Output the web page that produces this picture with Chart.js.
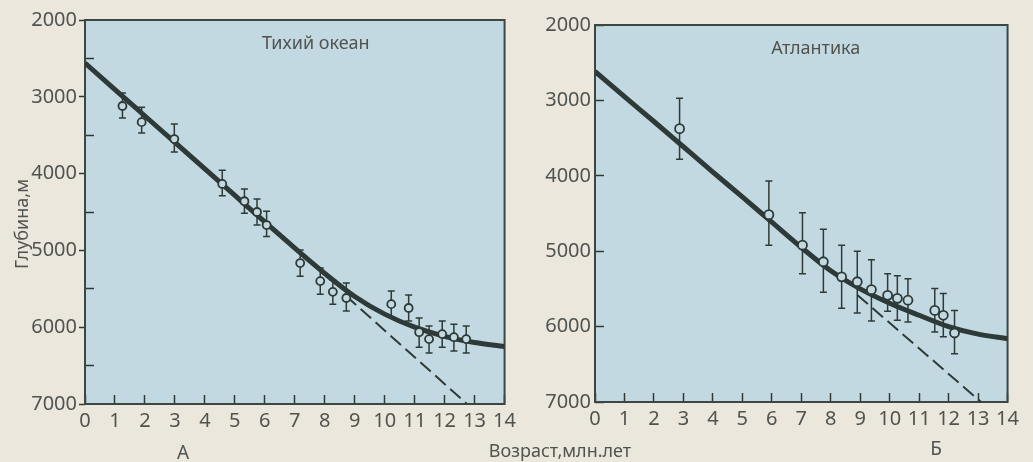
<!DOCTYPE html>
<html>
<head>
<meta charset="utf-8">
<script src="https://cdn.jsdelivr.net/npm/chart.js@4.4.1/dist/chart.umd.min.js"></script>
<style>
  body { margin: 0; width: 1033px; height: 462px; overflow: hidden; position: relative;
         background: #ebe7dd; font-family: "Noto Sans", sans-serif; color: #51534f; }
  .panel { position: absolute; top: 0; height: 462px; }
  #boxA { left: 0; width: 530px; }
  #boxB { left: 530px; width: 503px; }
  .lbl { position: absolute; white-space: nowrap; transform: translate(-50%, -50%); }
  #ylab { left: 21px; top: 224px; font-size: 18px; transform: translate(-50%, -50%) rotate(-90deg); }
  #xlab { left: 560px; top: 450px; font-size: 18px; }
  #la { left: 183px; top: 452px; font-size: 19px; }
  #lb { left: 936px; top: 448px; font-size: 19px; }
</style>
</head>
<body>
<div class="panel" id="boxA"><canvas id="chartA"></canvas></div>
<div class="panel" id="boxB"><canvas id="chartB"></canvas></div>
<div class="lbl" id="ylab">Глубина,м</div>
<div class="lbl" id="xlab">Возраст,млн.лет</div>
<div class="lbl" id="la">А</div>
<div class="lbl" id="lb">Б</div>

<script>
// axis ticks
const ageTicks = [0, 1, 2, 3, 4, 5, 6, 7, 8, 9, 10, 11, 12, 13, 14];
const depthTicks = [2000, 3000, 4000, 5000, 6000, 7000];
const depthMinorTicks = [2500, 3500, 4500, 5500, 6500];

// Тихий океан - measured points with error bars
const pacAge    = [1.25, 1.89, 2.98, 4.58, 5.32, 5.74, 6.06, 7.18, 7.85, 8.27, 8.72, 10.22, 10.8, 11.15, 11.48, 11.92, 12.31, 12.72];
const pacDepth  = [3120, 3330, 3550, 4135, 4360, 4500, 4670, 5165, 5400, 5540, 5620, 5700, 5750, 6065, 6155, 6090, 6130, 6155];
const pacErrTop = [2950, 3135, 3355, 3955, 4200, 4330, 4490, 4995, 5230, 5385, 5425, 5530, 5580, 5880, 5985, 5920, 5960, 5985];
const pacErrBot = [3275, 3470, 3720, 4290, 4515, 4670, 4820, 5335, 5570, 5700, 5790, 5870, 5920, 6260, 6335, 6260, 6310, 6335];
// model curve (read at whole ages) and straight extrapolation
const pacCurve  = [2560, 2905, 3250, 3595, 3940, 4285, 4630, 4970, 5300, 5600, 5830, 6000, 6120, 6200, 6250];
const pacDashAge   = [8.7, 12.75];
const pacDashDepth = [5590, 7000];

// Атлантика
const atlAge    = [2.87, 5.9, 7.04, 7.75, 8.37, 8.9, 9.38, 9.93, 10.26, 10.62, 11.53, 11.82, 12.2];
const atlDepth  = [3375, 4515, 4920, 5140, 5340, 5405, 5510, 5585, 5625, 5650, 5785, 5850, 6085];
const atlErrTop = [2970, 4070, 4490, 4710, 4920, 5000, 5115, 5300, 5325, 5365, 5495, 5560, 5785];
const atlErrBot = [3780, 4920, 5300, 5545, 5755, 5820, 5925, 5795, 5915, 5940, 6070, 6135, 6360];
const atlCurve  = [2615, 2950, 3280, 3615, 3950, 4280, 4615, 4950, 5260, 5500, 5690, 5850, 6000, 6100, 6160];
const atlDashAge   = [8.9, 13.1];
const atlDashDepth = [5580, 7000];

const INK = "#2e3a37";
const FRAME = "#3d4643";
const PLOT_BG = "#c3d9e2";
const TEXT = "#51534f";
const tickFont = { family: "Noto Sans", size: 20 };

// light blue plot area + frame around it
const framePlugin = {
  id: "frame",
  beforeDraw(chart) {
    const { ctx, chartArea: a } = chart;
    ctx.save();
    ctx.fillStyle = PLOT_BG;
    ctx.fillRect(a.left, a.top, a.width, a.height);
    ctx.restore();
  },
  beforeDatasetsDraw(chart) {
    const { ctx, chartArea: a } = chart;
    ctx.save();
    ctx.strokeStyle = FRAME;
    ctx.lineWidth = 2;
    ctx.strokeRect(a.left, a.top, a.width, a.height);
    ctx.restore();
  },
};

// vertical error bars with small caps, drawn under the circles
const errorBarPlugin = {
  id: "errorBars",
  beforeDatasetsDraw(chart) {
    const { ctx, scales: { x, y } } = chart;
    chart.data.datasets.forEach((ds) => {
      if (!ds.errTop) return;
      ctx.save();
      ctx.strokeStyle = INK;
      ctx.lineWidth = 1.5;
      ds.data.forEach((p, i) => {
        const px = x.getPixelForValue(p.x);
        const y1 = y.getPixelForValue(ds.errTop[i]);
        const y2 = y.getPixelForValue(ds.errBot[i]);
        ctx.beginPath();
        ctx.moveTo(px, y1); ctx.lineTo(px, y2);
        ctx.moveTo(px - 3.5, y1); ctx.lineTo(px + 3.5, y1);
        ctx.moveTo(px - 3.5, y2); ctx.lineTo(px + 3.5, y2);
        ctx.stroke();
      });
      ctx.restore();
    });
  },
};

// panel caption inside the plot
const captionPlugin = {
  id: "caption",
  afterDraw(chart) {
    const c = chart.options.plugins.caption;
    if (!c) return;
    const { ctx, chartArea: a } = chart;
    ctx.save();
    ctx.font = "18px 'Noto Sans'";
    ctx.fillStyle = TEXT;
    ctx.textAlign = "center";
    ctx.textBaseline = "middle";
    ctx.fillText(c.text, a.left + a.width * c.at, a.top + 24);
    ctx.restore();
  },
};

const toPoints = (xs, ys) => xs.map((v, i) => ({ x: v, y: ys[i] }));
const plain = (v) => String(v); // no thousands separator

function makePanel(id, p) {
  const scales = {
    x: {
      type: "linear", min: 0, max: 14, position: "bottom",
      afterBuildTicks: (s) => { s.ticks = ageTicks.map((v) => ({ value: v })); },
      ticks: { color: TEXT, font: tickFont, padding: 14, maxRotation: 0, autoSkip: false, callback: plain },
      grid: { drawOnChartArea: false, tickLength: -9, tickColor: INK, tickWidth: 1.5 },
      border: { display: false },
      afterFit: (s) => { s.height = p.xHeight; },
    },
    y: {
      type: "linear", reverse: true, min: 2000, max: 7000, position: "left", weight: 1,
      afterBuildTicks: (s) => { s.ticks = depthTicks.map((v) => ({ value: v })); },
      ticks: { color: TEXT, font: tickFont, padding: p.yPad, callback: plain },
      grid: { drawOnChartArea: false, tickLength: p.yTick, tickColor: INK, tickWidth: 1.5 },
      border: { display: false },
      afterFit: (s) => { s.width = p.yWidth; },
    },
  };
  if (p.minor) {
    scales.yMinor = {
      type: "linear", reverse: true, min: 2000, max: 7000, position: "left", weight: 0,
      afterBuildTicks: (s) => { s.ticks = depthMinorTicks.map((v) => ({ value: v })); },
      ticks: { display: false },
      grid: { drawOnChartArea: false, tickLength: -9, tickColor: INK, tickWidth: 1.5 },
      border: { display: false },
      afterFit: (s) => { s.width = 0; },
    };
  }

  return new Chart(document.getElementById(id), {
    type: "scatter",
    data: {
      datasets: [
        {
          data: toPoints(p.age, p.depth),
          errTop: p.errTop, errBot: p.errBot,
          pointRadius: p.r, pointBorderWidth: 1.8,
          pointBackgroundColor: PLOT_BG, pointBorderColor: INK,
          order: 0,
        },
        {
          type: "line",
          data: toPoints(ageTicks, p.curve),
          borderColor: INK, borderWidth: 5, pointRadius: 0,
          cubicInterpolationMode: "monotone", fill: false,
          order: 1,
        },
        {
          type: "line",
          data: toPoints(p.dashAge, p.dashDepth),
          borderColor: INK, borderWidth: 2, borderDash: [14, 6], pointRadius: 0,
          fill: false,
          order: 2,
        },
      ],
    },
    options: {
      responsive: true,
      maintainAspectRatio: false,
      animation: false,
      layout: { padding: { top: 20, right: 8, left: 0, bottom: 0 } },
      scales,
      plugins: {
        legend: { display: false },
        tooltip: { enabled: false },
        caption: { text: p.title, at: p.titleAt },
      },
    },
    plugins: [framePlugin, errorBarPlugin, captionPlugin],
  });
}

makePanel("chartA", {
  title: "Тихий океан", titleAt: 0.55,
  age: pacAge, depth: pacDepth, errTop: pacErrTop, errBot: pacErrBot,
  curve: pacCurve, dashAge: pacDashAge, dashDepth: pacDashDepth,
  r: 4, xHeight: 58, yWidth: 85, yTick: 6, yPad: 2, minor: true,
});

makePanel("chartB", {
  title: "Атлантика", titleAt: 0.535,
  age: atlAge, depth: atlDepth, errTop: atlErrTop, errBot: atlErrBot,
  curve: atlCurve, dashAge: atlDashAge, dashDepth: atlDashDepth,
  r: 4.5, xHeight: 60, yWidth: 65, yTick: -9, yPad: 13, minor: false,
});
</script>
</body>
</html>
